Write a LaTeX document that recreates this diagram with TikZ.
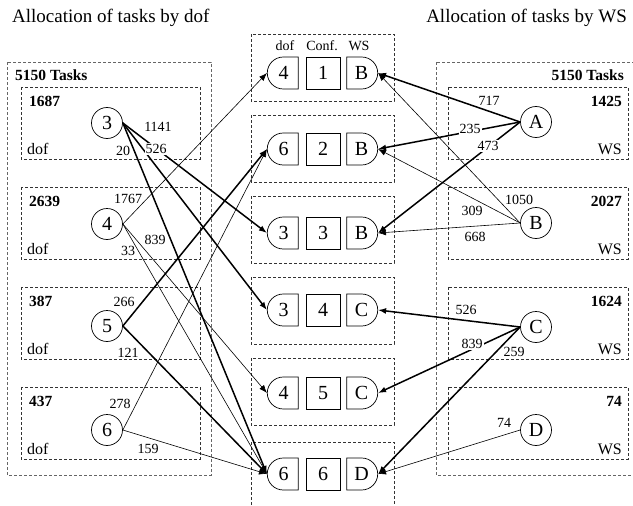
\documentclass[tikz,border=0pt]{standalone}
\usepackage{fontspec}
\setmainfont{Liberation Serif}
\usetikzlibrary{shapes.misc,arrows.meta,positioning}

\begin{document}
\begin{tikzpicture}[x=1pt,y=-1pt]

    % --- STYLES ---
    \tikzset{
        groupbox/.style={draw=black!80, dash pattern=on 3pt off 2pt, line width=0.8pt},
        outerbox/.style={draw=black!60, dash pattern=on 3pt off 2pt, line width=0.8pt},
        dofnode/.style={circle, draw, line width=0.7pt, minimum size=31pt, inner sep=0pt, font=\fontsize{20}{20}\selectfont},
        cellbase/.style={draw, line width=0.7pt, minimum height=32pt, inner sep=0pt, font=\fontsize{20}{20}\selectfont},
        dofcell/.style={cellbase, rounded rectangle, rounded rectangle right arc=none, minimum width=31pt},
        confcell/.style={cellbase, rectangle, minimum width=34pt},
        wscell/.style={cellbase, rounded rectangle, rounded rectangle left arc=none, minimum width=31pt},
        count/.style={font=\bfseries\fontsize{15.5}{16}\selectfont, inner sep=0pt},
        tag/.style={font=\fontsize{16}{16}\selectfont, inner sep=0pt},
        lbl/.style={font=\fontsize{14}{14}\selectfont, inner sep=1pt},
        lblw/.style={lbl, fill=white},
        heavy/.style={line width=1.5pt, -{Latex[length=8pt,width=6pt]}},
        light/.style={line width=0.6pt, -{Latex[length=8pt,width=6pt]}},
        titletext/.style={font=\fontsize{19}{22}\selectfont, inner sep=0pt}
    }

    \useasboundingbox (0,0) rectangle (633,506);

    % --- TITLES ---
    \node[titletext, anchor=west] (ltitle) at (12,18) {Allocation of tasks by dof};
    \node[titletext, anchor=east] (rtitle) at (627,18) {Allocation of tasks by WS};

    % --- LEFT: TASKS BY DOF ---
    \draw[outerbox] (7,62) rectangle (211,475);
    \node[count, anchor=west] (ltot) at (15,75) {5150 Tasks};
    \foreach \t/\n in {87/1687, 187/2639, 287/387, 387/437} {
        \draw[groupbox] (21,\t) rectangle (200,\t+72);
        \node[count, anchor=west] at (29,\t+14) {\n};
        \node[tag, anchor=west] at (27,\t+62) {dof};
    }
    \node[dofnode] (n3) at (107,123) {3};
    \node[dofnode] (n4) at (107,224) {4};
    \node[dofnode] (n5) at (107,326) {5};
    \node[dofnode] (n6) at (107,430) {6};

    % --- MIDDLE: CONFIGURATIONS ---
    \foreach \t in {34,115,196,277,358}
        \draw[groupbox] (251,\t) rectangle (394,\t+67);
    \draw[groupbox] (251,515) -- (251,442) -- (394,442) -- (394,515);
    \node[lbl] (hdof) at (285,46) {dof};
    \node[lbl] (hconf) at (322,46) {Conf.};
    \node[lbl] (hws) at (359,46) {WS};
    \foreach \r/\y/\d/\w in {1/73/4/B, 2/149/6/B, 3/233/3/B, 4/310/3/C, 5/393/4/C, 6/474/6/D} {
        \node[dofcell] (d\r) at (283.5,\y) {\d};
        \node[confcell] (c\r) at (323,\y) {\r};
        \node[wscell] (w\r) at (361.5,\y) {\w};
    }

    % --- RIGHT: TASKS BY WS ---
    \draw[outerbox] (436,62) rectangle (645,475);
    \node[count, anchor=east] (rtot) at (624,75) {5150 Tasks};
    \foreach \t/\n in {87/1425, 187/2027, 287/1624, 387/74} {
        \draw[groupbox] (448,\t) rectangle (628,\t+72);
        \node[count, anchor=east] at (622,\t+14) {\n};
        \node[tag, anchor=east] at (622,\t+62) {WS};
    }
    \node[dofnode] (nA) at (536,122) {A};
    \node[dofnode] (nB) at (536,223) {B};
    \node[dofnode] (nC) at (536,327) {C};
    \node[dofnode] (nD) at (536,430) {D};

    % --- ALLOCATION DOF -> CONF ---
    \draw[heavy] (n3.east) -- (d3.west);
    \draw[heavy] (n3.east) -- (d4.west);
    \draw[heavy] (n3.east) -- (d6.west);
    \draw[light] (n4.east) -- (d1.west);
    \draw[light] (n4.east) -- (d5.west);
    \draw[light] (n4.east) -- (d6.west);
    \draw[heavy] (n5.east) -- (d2.west);
    \draw[heavy] (n5.east) -- (d6.west);
    \draw[light] (n6.east) -- (d2.west);
    \draw[light] (n6.east) -- (d6.west);

    % --- ALLOCATION WS -> CONF ---
    \draw[heavy] (nA.west) -- (w1.east);
    \draw[heavy] (nA.west) -- (w2.east);
    \draw[heavy] (nA.west) -- (w3.east);
    \draw[light] (nB.west) -- (w1.east);
    \draw[light] (nB.west) -- (w2.east);
    \draw[light] (nB.west) -- (w3.east);
    \draw[heavy] (nC.west) -- (w4.east);
    \draw[heavy] (nC.west) -- (w5.east);
    \draw[heavy] (nC.west) -- (w6.east);
    \draw[light] (nD.west) -- (w6.east);

    % --- TASK NUMBERS ---
    \node[lbl]  (l31) at (158,127) {1141};
    \node[lblw] (l34) at (156,149) {526};
    \node[lbl]  (l36) at (123,151) {20};
    \node[lbl]  (l41) at (128,199) {1767};
    \node[lbl]  (l45) at (155,240) {839};
    \node[lbl]  (l46) at (128,251) {33};
    \node[lbl]  (l52) at (124,302) {266};
    \node[lbl]  (l56) at (128,353) {121};
    \node[lbl]  (l62) at (120,404) {278};
    \node[lbl]  (l66) at (148,449) {159};

    \node[lbl]  (lA1) at (489,101) {717};
    \node[lblw] (lA2) at (470,129) {235};
    \node[lblw] (lA3) at (488,146) {473};
    \node[lbl]  (lB1) at (519,200) {1050};
    \node[lbl]  (lB2) at (472,211) {309};
    \node[lbl]  (lB3) at (475,237) {668};
    \node[lbl]  (lC4) at (466,310) {526};
    \node[lblw] (lC5) at (472,344) {839};
    \node[lbl]  (lC6) at (514,352) {259};
    \node[lbl]  (lD6) at (504,423) {74};

\end{tikzpicture}
\end{document}
